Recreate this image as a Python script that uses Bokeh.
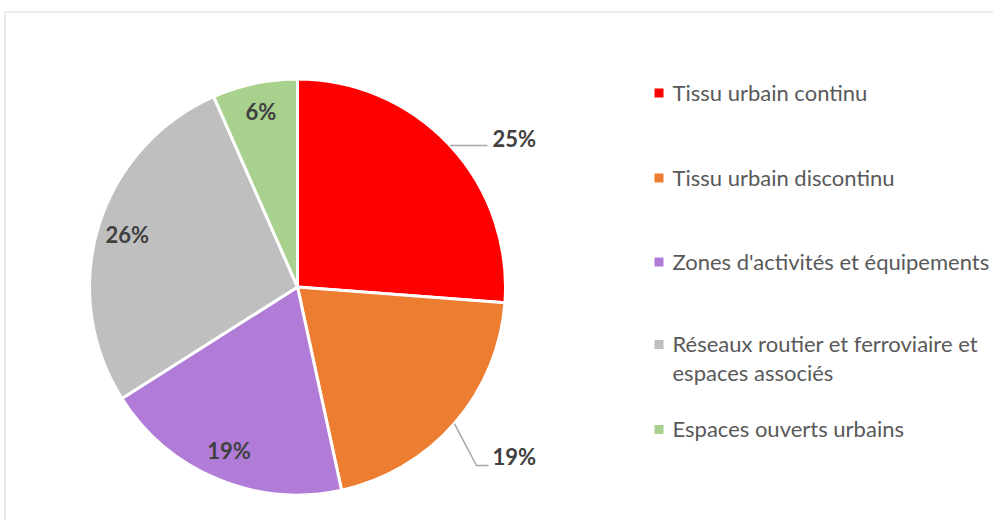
import numpy as np
from bokeh.plotting import figure
from bokeh.models import ColumnDataSource, Range1d
from bokeh.embed import file_html
from bokeh.resources import INLINE
from bokeh.core.properties import value

# ---- data ----
categories = [
    "Tissu urbain continu",
    "Tissu urbain discontinu",
    "Zones d'activités et équipements",
    "Réseaux routier et ferroviaire et espaces associés",
    "Espaces ouverts urbains",
]
legend_lines = [
    ["Tissu urbain continu"],
    ["Tissu urbain discontinu"],
    ["Zones d'activités et équipements"],
    ["Réseaux routier et ferroviaire et", "espaces associés"],
    ["Espaces ouverts urbains"],
]
shares = [26.2, 20.4, 19.4, 27.4, 6.6]
pct_labels = ["25%", "19%", "19%", "26%", "6%"]
colors = ["#FF0000", "#ED7D31", "#B07CD8", "#BFBFBF", "#A9D18E"]

# ---- layout (figure-local pixels; data y = H - py) ----
W, H = 993, 520
FONT = "Lato"
LABEL_SIZE = "22px"
LEGEND_SIZE = "22px"
TEXT_DY = 9.0   # correction for baseline rendering
cx, cy_page, R = 297.0, 286.5, 208.0
cy = H - cy_page

def Y(py):
    return H - py

p = figure(width=W, height=H, output_backend="svg", toolbar_location=None,
           x_range=Range1d(0, W), y_range=Range1d(0, H),
           min_border=0, outline_line_color=None, margin=(0, 0, -8, 0))
p.axis.visible = False
p.grid.visible = False
p.background_fill_color = "white"
p.border_fill_color = "white"

# chart-area border (top & left visible)
p.line([4.5, 4.5, W + 5], [Y(H + 5), Y(11.5), Y(11.5)], line_color="#D9D9D9", line_width=1.2)

# ---- pie ----
vals = np.array(shares, dtype=float)
frac = vals / vals.sum()
cum = np.concatenate([[0.0], np.cumsum(frac)])
start = np.pi / 2 - 2 * np.pi * cum[1:]
end = np.pi / 2 - 2 * np.pi * cum[:-1]
mid = (start + end) / 2

src = ColumnDataSource(dict(start=start, end=end, color=colors, cat=categories))
p.wedge(x=cx, y=cy, radius=R, start_angle="start", end_angle="end",
        fill_color="color", line_color="white", line_width=3, source=src)

# ---- data labels ----
lab_color = "#404040"
inside = [2, 3, 4]
ix = [cx + 0.855 * R * np.cos(mid[i]) for i in inside]
iy = [cy + 0.855 * R * np.sin(mid[i]) - 8 + TEXT_DY for i in inside]
p.text(x=ix, y=iy, text=[pct_labels[i] for i in inside], text_align="center",
       text_baseline="alphabetic", text_font=value(FONT), text_font_size=LABEL_SIZE,
       text_font_style="bold", text_color=lab_color)

# outside labels with leader lines
leader_color = "#A6A6A6"
# red slice
ex0, ey0 = cx + R * np.cos(mid[0]), cy + R * np.sin(mid[0])
p.line([ex0, 487], [ey0, ey0], line_color=leader_color, line_width=1.5)
# orange slice
ex1, ey1 = cx + R * np.cos(mid[1]), cy + R * np.sin(mid[1])
p.line([ex1, 476, 488], [ey1, Y(465), Y(465)], line_color=leader_color, line_width=1.5)
p.text(x=[492, 492], y=[ey0 - 1.5 + TEXT_DY, Y(465) + TEXT_DY],
       text=[pct_labels[0], pct_labels[1]],
       text_align="left", text_baseline="alphabetic", text_font=value(FONT),
       text_font_size=LABEL_SIZE, text_font_style="bold", text_color=lab_color)

# ---- legend ----
sq_y_page = [92.5, 177.5, 261.5, 344.0, 429.0]
p.rect(x=[658.5] * 5, y=[Y(v) for v in sq_y_page], width=9, height=9,
       fill_color=colors, line_color=None)
tx, ty, tt = [], [], []
for k, lines in enumerate(legend_lines):
    for j, line in enumerate(lines):
        tx.append(672)
        ty.append(Y(sq_y_page[k] + 8.2 + 29 * j) + TEXT_DY)
        tt.append(line)
p.text(x=tx, y=ty, text=tt, text_align="left", text_baseline="alphabetic",
       text_font=value(FONT), text_font_size=LEGEND_SIZE, text_color="#595959")

open("out.html", "w").write(file_html(p, INLINE))
